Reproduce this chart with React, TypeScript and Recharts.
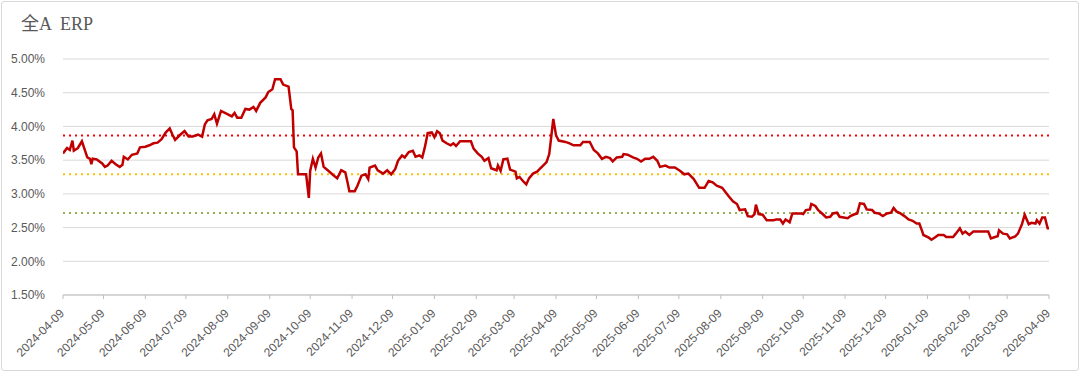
import React from 'react';
import { LineChart, Line, XAxis, YAxis, CartesianGrid, ReferenceLine } from 'recharts';

const dates = [
  '2024-04-09','2024-04-12','2024-04-14','2024-04-16','2024-04-17','2024-04-20','2024-04-23','2024-04-27','2024-04-29','2024-04-30',
  '2024-05-01','2024-05-04','2024-05-08','2024-05-10','2024-05-12','2024-05-15','2024-05-18','2024-05-21','2024-05-23','2024-05-24',
  '2024-05-27','2024-05-30','2024-06-03','2024-06-05','2024-06-09','2024-06-12','2024-06-15','2024-06-18','2024-06-21','2024-06-24',
  '2024-06-27','2024-06-29','2024-07-01','2024-07-05','2024-07-08','2024-07-11','2024-07-14','2024-07-18','2024-07-21','2024-07-23',
  '2024-07-25','2024-07-28','2024-07-30','2024-08-01','2024-08-04','2024-08-08','2024-08-12','2024-08-14','2024-08-16','2024-08-19',
  '2024-08-22','2024-08-25','2024-08-28','2024-08-30','2024-09-02','2024-09-06','2024-09-08','2024-09-11','2024-09-13','2024-09-17',
  '2024-09-19','2024-09-23','2024-09-25','2024-09-26','2024-09-27','2024-09-29','2024-09-30','2024-10-06','2024-10-08','2024-10-09',
  '2024-10-11','2024-10-13','2024-10-15','2024-10-17','2024-10-19','2024-10-22','2024-10-26','2024-10-29','2024-11-01','2024-11-04',
  '2024-11-06','2024-11-07','2024-11-11','2024-11-13','2024-11-16','2024-11-19','2024-11-21','2024-11-22','2024-11-26','2024-11-28',
  '2024-12-02','2024-12-05','2024-12-08','2024-12-11','2024-12-13','2024-12-16','2024-12-18','2024-12-21','2024-12-24','2024-12-26',
  '2024-12-29','2024-12-31','2025-01-02','2025-01-04','2025-01-07','2025-01-09','2025-01-11','2025-01-13','2025-01-15','2025-01-18',
  '2025-01-21','2025-01-23','2025-01-25','2025-01-28','2025-02-05','2025-02-07','2025-02-10','2025-02-13','2025-02-15','2025-02-18',
  '2025-02-20','2025-02-24','2025-02-25','2025-02-27','2025-03-01','2025-03-04','2025-03-06','2025-03-10','2025-03-11','2025-03-13',
  '2025-03-16','2025-03-18','2025-03-20','2025-03-23','2025-03-26','2025-03-28','2025-03-31','2025-04-02','2025-04-04','2025-04-07',
  '2025-04-09','2025-04-11','2025-04-16','2025-04-19','2025-04-22','2025-04-27','2025-04-29','2025-05-04','2025-05-07','2025-05-10',
  '2025-05-13','2025-05-16','2025-05-19','2025-05-21','2025-05-24','2025-05-28','2025-05-29','2025-06-01','2025-06-05','2025-06-08',
  '2025-06-11','2025-06-14','2025-06-17','2025-06-20','2025-06-23','2025-06-25','2025-06-29','2025-07-02','2025-07-06','2025-07-10',
  '2025-07-13','2025-07-16','2025-07-20','2025-07-24','2025-07-28','2025-07-31','2025-08-03','2025-08-06','2025-08-10','2025-08-12',
  '2025-08-15','2025-08-18','2025-08-21','2025-08-23','2025-08-27','2025-08-29','2025-09-01','2025-09-03','2025-09-04','2025-09-06',
  '2025-09-09','2025-09-12','2025-09-17','2025-09-19','2025-09-22','2025-09-24','2025-09-26','2025-09-29','2025-10-01','2025-10-07',
  '2025-10-09','2025-10-11','2025-10-14','2025-10-15','2025-10-18','2025-10-20','2025-10-24','2025-10-26','2025-10-29','2025-10-31',
  '2025-11-03','2025-11-05','2025-11-08','2025-11-11','2025-11-13','2025-11-15','2025-11-18','2025-11-20','2025-11-23','2025-11-25',
  '2025-11-29','2025-12-01','2025-12-04','2025-12-07','2025-12-10','2025-12-13','2025-12-15','2025-12-17','2025-12-20','2025-12-23',
  '2025-12-26','2025-12-29','2026-01-01','2026-01-03','2026-01-05','2026-01-06','2026-01-10','2026-01-12','2026-01-15','2026-01-17',
  '2026-01-21','2026-01-23','2026-01-28','2026-01-30','2026-02-02','2026-02-04','2026-02-06','2026-02-09','2026-02-12','2026-02-23',
  '2026-02-25','2026-02-28','2026-03-02','2026-03-03','2026-03-06','2026-03-09','2026-03-11','2026-03-15','2026-03-17','2026-03-20',
  '2026-03-22','2026-03-25','2026-03-27','2026-03-30','2026-03-31','2026-04-02','2026-04-04','2026-04-06','2026-04-08','2026-04-09',
];

const erp = [
  3.60,3.68,3.65,3.79,3.64,3.68,3.78,3.54,3.52,3.44,
  3.52,3.51,3.45,3.40,3.42,3.49,3.44,3.40,3.43,3.55,
  3.51,3.58,3.60,3.69,3.70,3.72,3.75,3.76,3.81,3.91,
  3.97,3.88,3.80,3.88,3.93,3.85,3.85,3.88,3.85,4.03,
  4.09,4.11,4.18,4.04,4.23,4.19,4.15,4.20,4.13,4.13,
  4.26,4.25,4.29,4.23,4.35,4.43,4.51,4.55,4.70,4.70,
  4.62,4.59,4.26,4.24,3.69,3.63,3.29,3.29,2.94,3.34,
  3.52,3.39,3.54,3.60,3.40,3.35,3.28,3.23,3.35,3.32,
  3.14,3.04,3.04,3.12,3.27,3.29,3.22,3.39,3.42,3.35,
  3.30,3.35,3.29,3.37,3.49,3.57,3.54,3.62,3.64,3.55,
  3.57,3.54,3.70,3.90,3.91,3.84,3.93,3.90,3.79,3.75,
  3.72,3.75,3.71,3.78,3.78,3.67,3.60,3.55,3.49,3.53,
  3.38,3.35,3.42,3.34,3.51,3.52,3.36,3.33,3.23,3.25,
  3.18,3.14,3.23,3.30,3.33,3.37,3.43,3.47,3.59,4.11,
  3.87,3.79,3.77,3.75,3.72,3.72,3.77,3.77,3.65,3.60,
  3.52,3.55,3.53,3.48,3.54,3.55,3.59,3.58,3.54,3.52,
  3.48,3.52,3.52,3.55,3.49,3.40,3.42,3.39,3.39,3.34,
  3.29,3.30,3.22,3.09,3.09,3.19,3.17,3.12,3.09,3.04,
  2.96,2.89,2.85,2.76,2.77,2.67,2.66,2.70,2.84,2.70,
  2.69,2.61,2.61,2.62,2.62,2.56,2.62,2.58,2.71,2.71,
  2.70,2.76,2.77,2.85,2.82,2.76,2.69,2.65,2.66,2.71,
  2.72,2.66,2.65,2.64,2.67,2.69,2.71,2.86,2.85,2.77,
  2.76,2.72,2.71,2.67,2.71,2.72,2.79,2.74,2.71,2.67,
  2.62,2.60,2.56,2.56,2.45,2.39,2.35,2.32,2.36,2.39,
  2.39,2.36,2.36,2.41,2.49,2.41,2.44,2.39,2.44,2.44,
  2.34,2.36,2.37,2.46,2.41,2.40,2.34,2.37,2.41,2.55,
  2.69,2.55,2.57,2.56,2.61,2.56,2.65,2.65,2.49,2.49,
];

const tickLabels = [
  '2024-04-09','2024-05-09','2024-06-09','2024-07-09','2024-08-09','2024-09-09','2024-10-09','2024-11-09','2024-12-09',
  '2025-01-09','2025-02-09','2025-03-09','2025-04-09','2025-05-09','2025-06-09','2025-07-09','2025-08-09','2025-09-09',
  '2025-10-09','2025-11-09','2025-12-09','2026-01-09','2026-02-09','2026-03-09','2026-04-09',
];

const yTicks = [1.5, 2.0, 2.5, 3.0, 3.5, 4.0, 4.5, 5.0];
const bandLevels = [3.865, 3.29, 2.715];
const bandColors = ['#FF0000', '#FFC000', '#92B04F'];

const data = dates.map((d, i) => ({ t: Date.parse(d), erp: erp[i] }));
const xTicks = tickLabels.map((d) => Date.parse(d));

const XTick = (props: any) => {
  const { x, y, payload } = props;
  const s = new Date(payload.value).toISOString().slice(0, 10);
  return (
    <g transform={`translate(${x + 2},${y + 13})`}>
      <text x={0} y={0} textAnchor="end" fill="#595959" fontSize={12}
        fontFamily="'Liberation Sans', Arial, sans-serif" transform="rotate(-45)">
        {s}
      </text>
    </g>
  );
};

export default function App() {
  return (
    <div style={{ position: 'absolute', left: 0, top: 0, width: 1080, height: 372, background: '#fff' }}>
      <div style={{ position: 'absolute', left: 1, top: 1, width: 1076, height: 368, border: '1px solid #d9d9d9', borderRadius: 3 }} />
      <div style={{ position: 'absolute', left: 21, top: 9, fontSize: 18, color: '#595959', whiteSpace: 'pre',
        fontFamily: "'Liberation Serif', 'Noto Sans CJK SC', serif" }}>
        {'全A  ERP'}
      </div>
      <div style={{ position: 'absolute', left: 0, top: 0 }}>
        <LineChart width={1080} height={372} data={data} margin={{ top: 59, right: 31, bottom: 0, left: 0 }}>
          <CartesianGrid vertical={false} stroke="#d9d9d9" />
          <XAxis dataKey="t" type="number" domain={[xTicks[0], xTicks[xTicks.length - 1]]} ticks={xTicks}
            interval={0} height={77} tick={<XTick />} tickSize={4} tickLine={{ stroke: '#bfbfbf' }}
            axisLine={{ stroke: '#bfbfbf' }} allowDataOverflow />
          <YAxis type="number" domain={[1.5, 5]} ticks={yTicks} width={63} axisLine={false} tickLine={false}
            tickFormatter={(v: number) => `${v.toFixed(2)}%`}
            tick={{ fill: '#595959', fontSize: 12, fontFamily: "'Liberation Sans', Arial, sans-serif" }} tickMargin={12} />
          {bandLevels.map((v, i) => (
            <ReferenceLine key={i} y={v} stroke={bandColors[i]} strokeWidth={2} strokeDasharray="2 4" />
          ))}
          <Line type="linear" dataKey="erp" stroke="#C00000" strokeWidth={2.5} dot={false} isAnimationActive={false} />
        </LineChart>
      </div>
    </div>
  );
}
